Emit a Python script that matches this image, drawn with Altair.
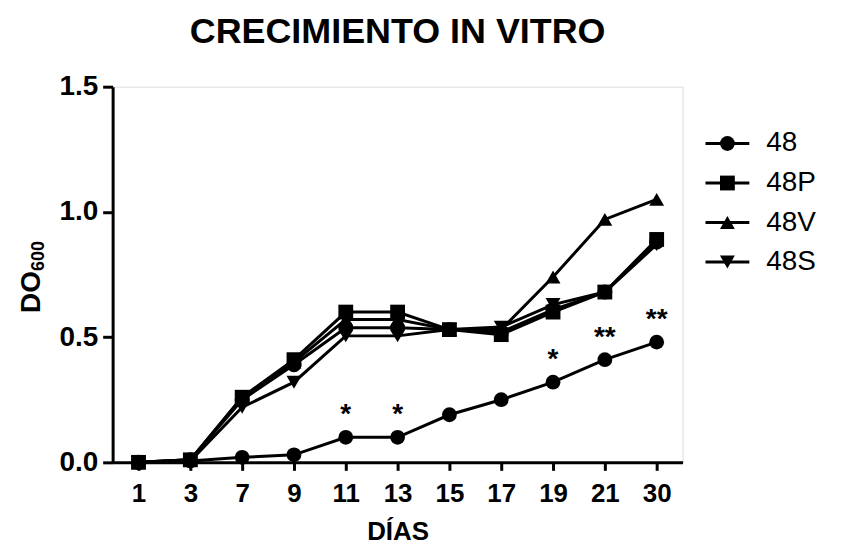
import altair as alt
import pandas as pd

# ---- data ----
days = ["1", "3", "7", "9", "11", "13", "15", "17", "19", "21", "30"]
s48 = [0.0, 0.005, 0.02, 0.03, 0.10, 0.10, 0.19, 0.25, 0.32, 0.41, 0.48]
s48P = [0.0, 0.01, 0.26, 0.41, 0.60, 0.60, 0.53, 0.51, 0.60, 0.68, 0.89]
s48V = [0.0, 0.01, 0.26, 0.40, 0.57, 0.57, 0.53, 0.53, 0.74, 0.97, 1.05]
s48S = [0.0, 0.005, 0.22, 0.32, 0.505, 0.505, 0.53, 0.54, 0.63, 0.68, 0.87]
s48x = [0.0, 0.01, 0.25, 0.39, 0.537, 0.537, 0.53, 0.52, 0.61, 0.68, 0.88]  # unlabeled trace

legend_names = ["48", "48P", "48V", "48S"]
shape_domain = ["48", "48P", "48V", "48S", "48x"]
shape_range = ["circle", "square", "triangle-up", "triangle-down", "circle"]
size_range = [220, 225, 270, 270, 220]

star_days = ["11", "13", "19", "21", "30"]
star_marks = ["*", "*", "*", "**", "**"]

FONT = "Liberation Sans"

# draw order: last is on top
draw_order = [("48x", s48x), ("48S", s48S), ("48V", s48V), ("48P", s48P), ("48", s48)]
rows = []
for name, vals in draw_order:
    for d, v in zip(days, vals):
        rows.append({"series": name, "day": d, "value": v})
df = pd.DataFrame(rows)

stars_df = pd.DataFrame({
    "day": star_days,
    "mark": star_marks,
    "value": [s48[days.index(d)] for d in star_days],
})

legend_df = pd.DataFrame({"series": legend_names, "row": list(range(len(legend_names)))})

shape_scale = alt.Scale(domain=shape_domain, range=shape_range)
size_scale = alt.Scale(domain=shape_domain, range=size_range)

x_enc = alt.X(
    "day:O", sort=days,
    scale=alt.Scale(type="point", padding=0.5),
    axis=alt.Axis(
        title="DÍAS", labelAngle=0, labelFont=FONT, labelFontSize=26, labelFontWeight="bold",
        labelColor="black", labelPadding=10, domainColor="black", domainWidth=3,
        tickColor="black", tickWidth=3, tickSize=8, titleFont=FONT, titleFontSize=26,
        titleFontWeight="bold", titleColor="black", titlePadding=12, grid=False,
    ),
)
y_enc = alt.Y(
    "value:Q",
    scale=alt.Scale(domain=[0, 1.5], nice=False, zero=False),
    axis=alt.Axis(
        title=None, values=[0, 0.5, 1.0, 1.5], format=".1f", labelFont=FONT, labelFontSize=28,
        labelFontWeight="bold", labelColor="black", labelPadding=5, domainColor="black",
        domainWidth=3, tickColor="black", tickWidth=3, tickSize=10, grid=False,
    ),
)

lines = alt.Chart(df).mark_line(color="black", strokeWidth=3).encode(
    x=x_enc, y=y_enc, detail="series:N", order=alt.Order("day_idx:Q")
).transform_calculate(day_idx="indexof(" + str(days) + ", datum.day)")

points = alt.Chart(df).mark_point(filled=True, color="black", opacity=1).encode(
    x=alt.X("day:O", sort=days), y=alt.Y("value:Q"),
    shape=alt.Shape("series:N", scale=shape_scale, legend=None),
    size=alt.Size("series:N", scale=size_scale, legend=None),
)

stars = alt.Chart(stars_df).mark_text(
    font=FONT, fontSize=28, fontWeight="bold", color="black", baseline="alphabetic", dy=-14
).encode(x=alt.X("day:O", sort=days), y=alt.Y("value:Q"), text="mark:N")

ytitle_main = alt.Chart(pd.DataFrame({"t": ["DO"]})).mark_text(
    font=FONT, fontSize=28, fontWeight="bold", color="black", angle=270,
    align="left", baseline="alphabetic"
).encode(x=alt.value(-73), y=alt.value(227), text="t:N")
ytitle_sub = alt.Chart(pd.DataFrame({"t": ["600"]})).mark_text(
    font=FONT, fontSize=18, fontWeight="bold", color="black", angle=270,
    align="left", baseline="alphabetic"
).encode(x=alt.value(-69), y=alt.value(185), text="t:N")

main = alt.layer(lines, points, stars, ytitle_main, ytitle_sub)

leg_y = alt.Y("row:Q", scale=alt.Scale(domain=[0, 3], range=[57, 176]), axis=None)
leg_rule = alt.Chart(legend_df).mark_rule(color="black", strokeWidth=3).encode(
    x=alt.value(595), x2=alt.value(639), y=leg_y
)
leg_pts = alt.Chart(legend_df).mark_point(filled=True, color="black", opacity=1).encode(
    x=alt.value(617), y=leg_y,
    shape=alt.Shape("series:N", scale=shape_scale, legend=None),
    size=alt.Size("series:N", scale=size_scale, legend=None),
)
leg_txt = alt.Chart(legend_df).mark_text(
    font=FONT, fontSize=28, color="black", align="left", baseline="middle"
).encode(x=alt.value(656), y=leg_y, text="series:N")
legend = alt.layer(leg_rule, leg_pts, leg_txt)

chart = alt.layer(main, legend).resolve_scale(y="independent").properties(
    width=572, height=377,
    title=alt.TitleParams("CRECIMIENTO IN VITRO", font=FONT, fontSize=36, fontWeight="bold",
                          color="black", anchor="middle", offset=22),
    autosize=alt.AutoSizeParams(type="none"),
    padding={"left": 105, "top": 78, "right": 160, "bottom": 88},
).configure_view(stroke=None).configure(background="white")

chart.save("out.html", embed_options={"renderer": "svg", "actions": False})
